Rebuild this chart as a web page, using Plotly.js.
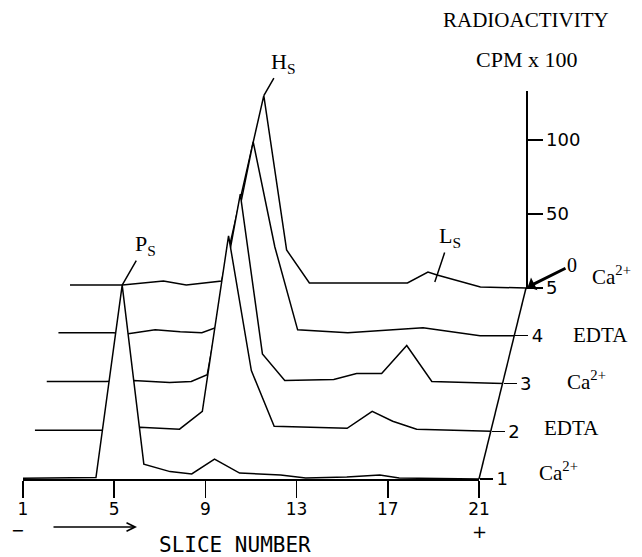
<!DOCTYPE html>
<html><head><meta charset="utf-8">
<script src="https://cdn.plot.ly/plotly-3.0.1.min.js"></script>
<style>html,body{margin:0;padding:0;background:#fff}</style>
</head><body><div id="chart" style="width:642px;height:557px"></div>
<script>
// ---- data ----
const trackLabels = ['1', '2', '3', '4', '5'];
const conditions = ['Ca<sup>2+</sup>', 'EDTA', 'Ca<sup>2+</sup>', 'EDTA', 'Ca<sup>2+</sup>'];

const slice1 = [1, 4.2, 5.35, 6.3, 7.45, 8.4, 9.4, 10.5, 12.3, 13.4, 15.2, 16.65, 17.5, 21];
const cpm1   = [0.5, 1, 131, 10, 5, 3.4, 13.5, 4, 2.7, 0.7, 1.4, 2.7, 0.7, 0];

const slice2 = [1, 4.0, 5.6, 7.35, 8.35, 9.5, 10.5, 11.5, 14.7, 15.8, 16.7, 17.75, 21];
const cpm2   = [0.7, 0.7, 2.7, 1.4, 13.5, 132, 41, 3.4, 2, 13.5, 6.8, 1.4, 0];

const slice3 = [1, 3.6, 4.8, 6.4, 7.35, 8.05, 9.5, 10.47, 11.45, 13.6, 14.6, 15.7, 16.8, 17.9, 21];
const cpm3   = [1.4, 1.4, 2, 0.7, 1.4, 6, 128, 20, 2, 2.7, 6.8, 6.8, 25.7, 1.4, 0];

const slice4 = [1, 3.4, 4.07, 5.25, 6.35, 7.3, 7.9, 9.55, 10.5, 11.5, 13.7, 16.6, 17.0, 19.5, 21];
const cpm4   = [2, 2, 1.4, 4, 2.7, 2, 5.4, 131, 60, 4, 2, 5.4, 5.4, 0, 0];

const slice5 = [1, 3.3, 5.1, 6.1, 7.65, 9.5, 10.5, 11.5, 15.8, 16.7, 17.1, 19, 21];
const cpm5   = [2, 2, 4.7, 2, 4.7, 130, 25.7, 3.4, 3.4, 10.8, 8.8, 0.7, 0];

const slices = [slice1, slice2, slice3, slice4, slice5];
const cpms = [cpm1, cpm2, cpm3, cpm4, cpm5];

const xTickVals = [1, 5, 9, 13, 17, 21];
const yTickVals = [50, 100];
const yTickText = ['50', '100'];

// ---- geometry (pseudo-3D offsets) ----
const W = 642, H = 557;
const x0 = 23, pxPerSlice = 22.8, base0 = 479, pxPerUnit = 1.48;
const stepX = 11.75, stepY = 47.75;
const xr = [1, 21], yr = [-0.8, 133];

const serif = 'Liberation Serif, DejaVu Serif, serif';
const sans = 'DejaVu Sans, sans-serif';

const layout = {
  width: W, height: H,
  margin: {l: 0, r: 0, t: 0, b: 0},
  paper_bgcolor: '#fff', plot_bgcolor: 'rgba(0,0,0,0)',
  showlegend: false,
  annotations: [], shapes: []
};
const traces = [];

function axName(a, p) { return p + 'axis' + (a === 1 ? '' : a); }
function axId(a, p) { return p + (a === 1 ? '' : a); }

// trace t (1 = front) goes on axis index a = 6 - t so the front trace is drawn last
for (let t = 5; t >= 1; t--) {
  const a = 6 - t, k = t - 1;
  const left = x0 + k * stepX + (xr[0] - 1) * pxPerSlice;
  const right = left + (xr[1] - xr[0]) * pxPerSlice;
  const base = base0 - k * stepY;
  const bottom = base - yr[0] * pxPerUnit;
  const top = base - yr[1] * pxPerUnit;

  const xa = {
    domain: [left / W, right / W], range: xr, anchor: axId(a, 'y'),
    showgrid: false, zeroline: false, fixedrange: true,
    showline: false, showticklabels: false, ticks: ''
  };
  if (t === 1) {
    Object.assign(xa, {
      anchor: 'free', position: 1 - base / H,
      showline: true, linecolor: '#000', linewidth: 1.5,
      ticks: 'outside', ticklen: 17, tickwidth: 1.5, tickcolor: '#000',
      tickvals: xTickVals, showticklabels: true, ticklabelstandoff: -3,
      tickfont: {family: sans, size: 17, color: '#000'}
    });
  }
  const ya = {
    domain: [1 - bottom / H, 1 - top / H], range: yr, anchor: axId(a, 'x'),
    side: 'right', showgrid: false, zeroline: false, fixedrange: true,
    showline: false, ticks: 'outside', ticklen: 13, tickwidth: 1.2, tickcolor: '#000',
    tickvals: [0], ticktext: [trackLabels[k]],
    tickfont: {family: sans, size: 18, color: '#000'}
  };
  if (t === 5) {
    Object.assign(ya, {
      showline: true, linecolor: '#000', linewidth: 1.5,
      tickvals: [0].concat(yTickVals), ticktext: [trackLabels[k]].concat(yTickText),
      ticklen: 15
    });
  }
  layout[axName(a, 'x')] = xa;
  layout[axName(a, 'y')] = ya;

  traces.push({
    type: 'scatter', mode: 'lines',
    x: slices[k], y: cpms[k],
    xaxis: axId(a, 'x'), yaxis: axId(a, 'y'),
    fill: 'tozeroy', fillcolor: '#fff',
    line: {color: '#000', width: 1.5},
    hoverinfo: 'skip'
  });

  // condition label to the right of each track
  const condShift = [[79, 8], [81, 3], [84, 3], [86, 1], [85, 13]][k];
  layout.annotations.push({
    xref: axId(a, 'x'), yref: axId(a, 'y'), x: xr[1], y: 0,
    text: conditions[k], showarrow: false, xanchor: 'center', yanchor: 'middle',
    xshift: condShift[0], yshift: condShift[1],
    font: {family: serif, size: 21, color: '#000'}
  });
}

// diagonal depth axis joining the track baselines
const k5 = 4;
layout.shapes.push({
  type: 'line', xref: 'paper', yref: 'paper',
  x0: (x0 + (xr[1] - 1) * pxPerSlice) / W, y0: 1 - base0 / H,
  x1: (x0 + k5 * stepX + (xr[1] - 1) * pxPerSlice) / W, y1: 1 - (base0 - k5 * stepY) / H,
  line: {color: '#000', width: 1.5}
});

function txt(x, y, text, font, extra) {
  return Object.assign({xref: 'paper', yref: 'paper', x: x / W, y: 1 - y / H, text: text,
    showarrow: false, xanchor: 'center', yanchor: 'middle', font: font}, extra || {});
}

// peak labels
layout.annotations.push(
  {xref: 'x5', yref: 'y5', x: 5.35, y: 131, text: 'P<sub>S</sub>', ax: 23, ay: -40,
   showarrow: true, arrowhead: 0, arrowwidth: 1.5, arrowcolor: '#000', standoff: 0,
   font: {family: serif, size: 22, color: '#000'}},
  {xref: 'x', yref: 'y', x: 9.5, y: 130, text: 'H<sub>S</sub>', ax: 19, ay: -33,
   showarrow: true, arrowhead: 0, arrowwidth: 1.5, arrowcolor: '#000', standoff: 0,
   font: {family: serif, size: 22, color: '#000'}},
  {xref: 'x', yref: 'y', x: 17.0, y: 4, text: 'L<sub>S</sub>', ax: 15, ay: -45,
   showarrow: true, arrowhead: 0, arrowwidth: 1.5, arrowcolor: '#000', standoff: 0,
   font: {family: serif, size: 22, color: '#000'}},
  {xref: 'x', yref: 'y', x: 21, y: 0, text: '0', ax: 46, ay: -23,
   showarrow: true, arrowhead: 1, arrowsize: 0.8, arrowwidth: 3, arrowcolor: '#000', standoff: 2,
   font: {family: serif, size: 20, color: '#000'}},
  txt(526, 20, 'RADIOACTIVITY', {family: serif, size: 21, color: '#000'}),
  txt(526, 60, 'CPM x 100', {family: serif, size: 22, color: '#000'}),
  txt(235, 545, 'SLICE NUMBER', {family: 'DejaVu Sans Mono, monospace', size: 21, color: '#000'}),
  txt(17, 530, '−', {family: sans, size: 16, color: '#000'}),
  txt(479, 531, '+', {family: sans, size: 18, color: '#000'}),
  {xref: 'x5', yref: 'paper', x: 6.0, y: 1 - 527 / H, text: '', ax: -85, ay: 0,
   showarrow: true, arrowhead: 5, arrowsize: 1.3, arrowwidth: 1.3, arrowcolor: '#000', standoff: 0}
);

Plotly.newPlot('chart', traces, layout, {displayModeBar: false, staticPlot: true});
</script>
</body></html>
